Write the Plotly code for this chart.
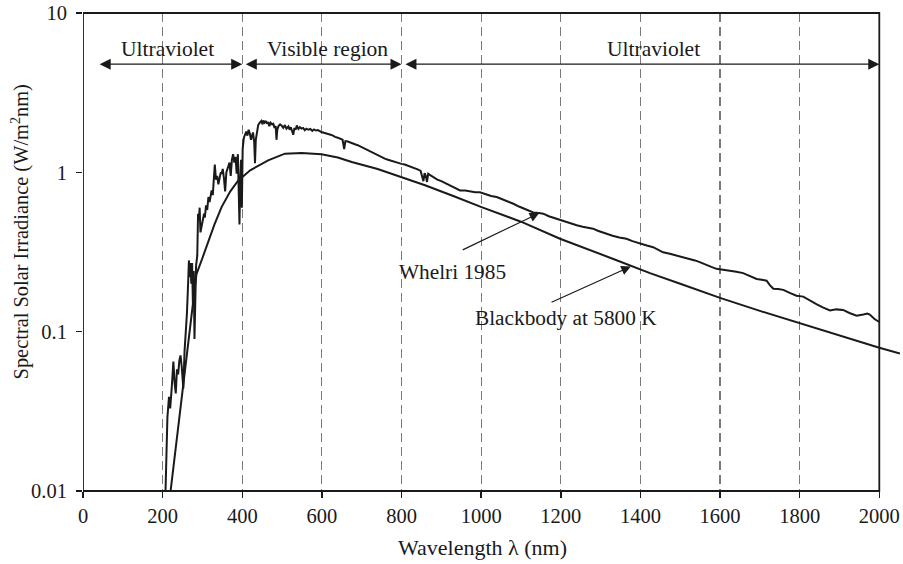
import plotly.graph_objects as go

spec_nm = [205, 208, 212, 216, 219, 223, 227, 230, 233, 236, 239, 242, 245, 248, 252, 255, 258, 261, 264, 266,
           268, 270, 272, 274, 276, 278, 280, 282, 284, 287, 289, 291, 293, 295, 298, 301, 304, 306, 309, 312,
           315, 318, 321, 323, 326, 329, 331, 334, 337, 340, 343, 346, 348, 351, 354, 357, 360, 363, 365, 368,
           371, 374, 377, 380, 383, 386, 389, 391, 393, 395, 397, 399, 401, 404, 407, 410, 413, 416, 419, 422,
           424, 427, 430, 432, 434, 437, 440, 444, 448, 451, 453, 456, 459, 462, 465, 468, 471, 475, 478, 481,
           484, 486, 488, 491, 495, 499, 503, 507, 511, 516, 519, 522, 525, 528, 531, 534, 537, 541, 545, 549,
           553, 557, 561, 566, 571, 576, 580, 585, 590, 595, 599, 605, 610, 616, 622, 628, 633, 640, 647, 652,
           656, 659, 665, 672, 678, 683, 690, 697, 705, 712, 716, 724, 731, 738, 745, 750, 758, 766, 775, 783,
           792, 800, 808, 817, 825, 833, 842, 848, 852, 855, 858, 861, 864, 867, 872, 880, 890, 900, 913, 925,
           937, 947, 960, 972, 985, 997, 1010, 1025, 1039, 1052, 1066, 1081, 1095, 1110, 1120, 1131, 1145, 1156, 1170, 1185,
           1198, 1212, 1226, 1240, 1255, 1268, 1281, 1293, 1304, 1315, 1330, 1347, 1365, 1380, 1399, 1416, 1432, 1445, 1457, 1474,
           1491, 1508, 1524, 1537, 1549, 1565, 1578, 1591, 1608, 1625, 1641, 1658, 1675, 1692, 1705, 1717, 1725, 1734, 1746, 1759,
           1775, 1792, 1809, 1825, 1842, 1858, 1876, 1892, 1909, 1925, 1943, 1960, 1970, 1976, 1988, 2000]
spec_val = [0.006, 0.0105, 0.029, 0.039, 0.033, 0.045, 0.065, 0.048, 0.041, 0.058, 0.054, 0.066, 0.071, 0.06, 0.044, 0.075, 0.098, 0.13, 0.2, 0.28,
            0.22, 0.27, 0.2, 0.27, 0.15, 0.24, 0.09, 0.2, 0.26, 0.3, 0.55, 0.5, 0.6, 0.42, 0.46, 0.5, 0.55, 0.52, 0.62, 0.58,
            0.7, 0.65, 0.75, 0.77, 0.72, 0.95, 1.12, 0.9, 0.95, 0.84, 0.95, 1.0, 0.98, 1.05, 0.92, 0.76, 1.0, 1.05, 1.08, 1.15,
            0.95, 1.2, 1.3, 1.15, 1.25, 0.98, 1.3, 0.75, 0.47, 0.9, 1.2, 0.6, 1.4, 1.65, 1.75, 1.8, 1.7, 1.85, 1.75, 1.6,
            1.68, 1.78, 1.55, 1.14, 1.6, 1.85, 1.98, 2.05, 2.1, 2.0, 2.12, 2.05, 2.1, 2.02, 2.07, 1.95, 2.05, 2.0, 2.02, 1.9,
            1.95, 1.6, 1.85, 1.95, 2.0, 1.96, 1.9, 1.98, 1.88, 1.94, 1.85, 1.92, 1.8, 1.72, 1.9, 1.85, 1.97, 1.87, 1.92, 1.88,
            1.9, 1.84, 1.88, 1.85, 1.87, 1.82, 1.86, 1.83, 1.84, 1.8, 1.79, 1.77, 1.76, 1.74, 1.72, 1.7, 1.67, 1.65, 1.62, 1.6,
            1.4, 1.57, 1.56, 1.53, 1.52, 1.5, 1.48, 1.45, 1.42, 1.39, 1.37, 1.34, 1.31, 1.29, 1.27, 1.25, 1.22, 1.2, 1.18, 1.16,
            1.14, 1.13, 1.12, 1.1, 1.08, 1.06, 1.04, 1.02, 0.92, 0.88, 0.99, 0.95, 0.87, 0.98, 0.96, 0.93, 0.9, 0.88, 0.85, 0.82,
            0.8, 0.77, 0.77, 0.76, 0.75, 0.75, 0.73, 0.71, 0.70, 0.68, 0.66, 0.635, 0.61, 0.59, 0.58, 0.56, 0.555, 0.55, 0.53, 0.515,
            0.50, 0.49, 0.475, 0.465, 0.455, 0.45, 0.443, 0.43, 0.42, 0.411, 0.40, 0.39, 0.383, 0.37, 0.356, 0.347, 0.339, 0.325, 0.315, 0.308,
            0.301, 0.293, 0.286, 0.28, 0.273, 0.262, 0.255, 0.248, 0.245, 0.242, 0.238, 0.233, 0.222, 0.214, 0.212, 0.209, 0.196, 0.186, 0.185, 0.183,
            0.175, 0.168, 0.166, 0.157, 0.149, 0.142, 0.136, 0.138, 0.137, 0.131, 0.126, 0.128, 0.13, 0.128, 0.12, 0.115]

# Blackbody at 5800 K
bb_nm = [220, 285, 300, 315, 330, 348, 370, 390, 420, 465, 507, 549, 599, 640, 675, 740, 800, 859, 930, 1001,
         1100, 1198, 1332, 1424, 1500, 1600, 1700, 1799, 1900, 1998, 2052]
bb_val = [0.01, 0.23, 0.29, 0.37, 0.47, 0.605, 0.76, 0.89, 1.03, 1.19, 1.31, 1.32, 1.30, 1.24, 1.16, 1.05, 0.93, 0.83, 0.71, 0.605,
          0.49, 0.383, 0.286, 0.233, 0.2, 0.163, 0.135, 0.113, 0.095, 0.0796, 0.073]

x_ticks = [0, 200, 400, 600, 800, 1000, 1200, 1400, 1600, 1800, 2000]
y_ticks = [0.01, 0.1, 1, 10]
y_tick_text = ["0.01", "0.1", "1", "10"]

FONT = "Liberation Serif"
INK = "#1a1a1a"

fig = go.Figure()
fig.add_trace(go.Scatter(x=bb_nm, y=bb_val, mode="lines", line=dict(color=INK, width=2), showlegend=False))
fig.add_trace(go.Scatter(x=spec_nm, y=spec_val, mode="lines", line=dict(color=INK, width=2), showlegend=False))

# frame
fig.add_shape(type="rect", xref="x", yref="paper", x0=0, x1=2000, y0=0, y1=1,
              line=dict(color=INK, width=1.8), layer="above")

# region arrows
arrow_y = 0.679
for x0, x1 in [(38, 400), (405, 800), (806, 2000)]:
    fig.add_annotation(x=x1, y=arrow_y, ax=x0, ay=arrow_y, xref="x", yref="y", axref="x", ayref="y",
                       text="", showarrow=True, arrowhead=2, startarrowhead=2, arrowside="end+start",
                       arrowsize=1.7, startarrowsize=1.7, arrowwidth=1.3, arrowcolor=INK,
                       standoff=0, startstandoff=0)
for xc, label in [(211, "Ultraviolet"), (613, "Visible region"), (1432, "Ultraviolet")]:
    fig.add_annotation(x=xc, y=0.774, xref="x", yref="y", text=label, showarrow=False,
                       font=dict(family=FONT, size=21.5, color=INK))

# curve labels
fig.add_annotation(x=929, y=-0.623, xref="x", yref="y", text="Whelri 1985", showarrow=False,
                   font=dict(family=FONT, size=21.3, color=INK))
fig.add_annotation(x=1146, y=-0.256, ax=950, ay=-0.491, xref="x", yref="y", axref="x", ayref="y",
                   text="", showarrow=True, arrowhead=2, arrowsize=1.6, arrowwidth=1.2, arrowcolor=INK, standoff=0)
fig.add_annotation(x=1213, y=-0.914, xref="x", yref="y", text="Blackbody at 5800 K", showarrow=False,
                   font=dict(family=FONT, size=21.3, color=INK))
fig.add_annotation(x=1376, y=-0.591, ax=1173, ay=-0.820, xref="x", yref="y", axref="x", ayref="y",
                   text="", showarrow=True, arrowhead=2, arrowsize=1.6, arrowwidth=1.2, arrowcolor=INK, standoff=0)

# axis titles
fig.add_annotation(x=1003, y=-0.119, xref="x", yref="paper", text="Wavelength λ (nm)", showarrow=False,
                   xanchor="center", yanchor="middle", font=dict(family=FONT, size=22, color=INK))
fig.add_annotation(x=-0.0765, y=0.542, xref="paper", yref="paper",
                   text="Spectral Solar Irradiance (W/m<sup>2</sup>nm)", textangle=-90, showarrow=False,
                   xanchor="center", yanchor="middle", font=dict(family=FONT, size=20.4, color=INK))

fig.update_layout(
    width=903, height=564,
    margin=dict(l=83, r=3, t=13, b=73, autoexpand=False),
    paper_bgcolor="white", plot_bgcolor="white",
    font=dict(family=FONT, size=20.5, color=INK),
    hovermode=False,
    xaxis=dict(range=[0, 2052], tickvals=x_ticks, showgrid=True, gridcolor="#7a7a7a", gridwidth=1.1,
               griddash="9px,5px", showline=False, zeroline=False, ticks="outside", ticklen=6,
               tickcolor=INK, tickwidth=1.5, automargin=False, ticklabeloverflow="allow",
               tickfont=dict(family=FONT, size=20.5)),
    yaxis=dict(type="log", range=[-2, 1], tickvals=y_ticks, ticktext=y_tick_text, showgrid=False,
               showline=False, zeroline=False, ticks="outside", ticklen=6, tickcolor=INK, tickwidth=1.5,
               automargin=False, ticklabelstandoff=5, ticklabeloverflow="allow",
               tickfont=dict(family=FONT, size=20.5)),
)

# remove the default page margin so the 903x564 figure fills the window exactly
fig.write_html("out.html", config={"displayModeBar": False, "staticPlot": True},
               post_script="document.body.style.margin='0';document.body.style.overflow='hidden';"
                           "document.documentElement.style.overflow='hidden';")
